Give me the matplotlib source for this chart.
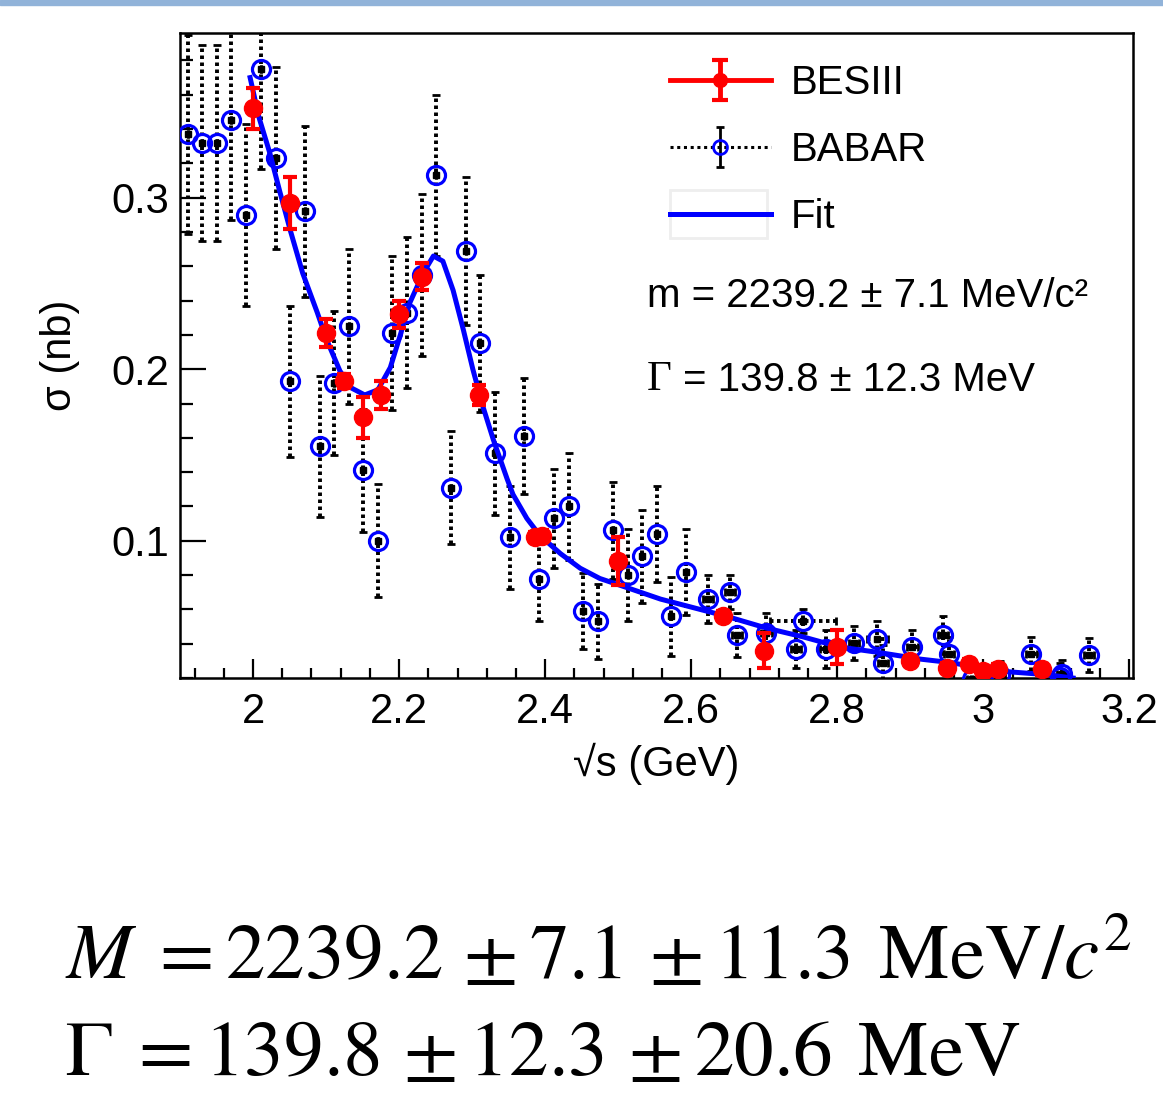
import matplotlib
matplotlib.use("Agg")
import matplotlib.pyplot as plt
from matplotlib.patches import Rectangle

plt.rcParams['font.family'] = ['Liberation Sans', 'DejaVu Sans']
plt.rcParams['mathtext.fontset'] = 'stix'

# BESIII (red points)
bes_x = [2.000, 2.050, 2.100, 2.125, 2.150, 2.175, 2.200, 2.232, 2.309, 2.386, 2.396,
         2.500, 2.644, 2.700, 2.800, 2.900, 2.950, 2.981, 3.000, 3.020, 3.080]
bes_y = [0.352, 0.297, 0.221, 0.193, 0.172, 0.185, 0.232, 0.254, 0.185, 0.102, 0.103,
         0.088, 0.056, 0.036, 0.038, 0.030, 0.026, 0.028, 0.024, 0.025, 0.025]
bes_err = [0.012, 0.015, 0.008, 0.004, 0.012, 0.008, 0.008, 0.008, 0.006, 0.003, 0.003,
           0.014, 0.003, 0.010, 0.010, 0.003, 0.003, 0.003, 0.003, 0.003, 0.003]

# BABAR (open blue circles)
bab_x = [1.911, 1.930, 1.951, 1.970, 1.990, 2.011, 2.032, 2.051, 2.071, 2.092,
         2.111, 2.132, 2.151, 2.171, 2.190, 2.211, 2.232, 2.251, 2.271, 2.292,
         2.311, 2.332, 2.352, 2.371, 2.392, 2.412, 2.432, 2.452, 2.473, 2.493,
         2.514, 2.533, 2.553, 2.573, 2.593, 2.623, 2.653, 2.663, 2.703, 2.744,
         2.753, 2.784, 2.823, 2.855, 2.863, 2.903, 2.945, 2.953, 2.985, 3.023,
         3.066, 3.105, 3.108, 3.145]
bab_y = [0.337, 0.332, 0.332, 0.345, 0.290, 0.375, 0.323, 0.193, 0.292, 0.155,
         0.192, 0.225, 0.141, 0.100, 0.221, 0.233, 0.255, 0.313, 0.131, 0.269,
         0.215, 0.151, 0.102, 0.161, 0.078, 0.113, 0.120, 0.059, 0.053, 0.106,
         0.080, 0.091, 0.104, 0.056, 0.082, 0.066, 0.070, 0.045, 0.046, 0.037,
         0.053, 0.037, 0.0405, 0.043, 0.029, 0.038, 0.045, 0.034, 0.0195, 0.022,
         0.034, 0.0207, 0.0225, 0.0335]
bab_err = [0.058, 0.057, 0.057, 0.058, 0.053, 0.058, 0.053, 0.044, 0.050, 0.041,
           0.042, 0.045, 0.036, 0.033, 0.045, 0.044, 0.047, 0.047, 0.033, 0.043,
           0.040, 0.036, 0.030, 0.034, 0.025, 0.029, 0.031, 0.022, 0.022, 0.028,
           0.027, 0.027, 0.028, 0.023, 0.025, 0.014, 0.010, 0.013, 0.012, 0.011,
           0.007, 0.011, 0.010, 0.010, 0.010, 0.010, 0.011, 0.010, 0.008, 0.008,
           0.010, 0.008, 0.008, 0.010]
bab_xerr = [0.0] * 35 + [0.007, 0.007, 0.007, 0.007, 0.007,
                         0.045, 0.007, 0.007, 0.014, 0.007, 0.007, 0.007, 0.007, 0.007, 0.007,
                         0.007, 0.007, 0.007, 0.007]

# fit curve
fit_x = [1.996, 2.008, 2.023, 2.037, 2.051, 2.068, 2.088, 2.101, 2.119, 2.135,
         2.153, 2.171, 2.188, 2.201, 2.215, 2.233, 2.247, 2.260, 2.274, 2.288,
         2.301, 2.315, 2.329, 2.348, 2.356, 2.375, 2.393, 2.421, 2.448, 2.475,
         2.503, 2.558, 2.612, 2.648, 2.704, 2.753, 2.804, 2.855, 2.914, 2.955,
         3.023, 3.085, 3.123]
fit_y = [0.370, 0.347, 0.326, 0.303, 0.281, 0.256, 0.233, 0.217, 0.199, 0.189,
         0.185, 0.188, 0.201, 0.219, 0.239, 0.256, 0.266, 0.263, 0.246, 0.223,
         0.200, 0.178, 0.159, 0.136, 0.127, 0.113, 0.103, 0.0925, 0.084, 0.078,
         0.074, 0.066, 0.060, 0.056, 0.049, 0.044, 0.038, 0.035, 0.031, 0.029,
         0.024, 0.022, 0.020]

fig = plt.figure(figsize=(11.63, 10.97), dpi=100)
fig.patches.append(Rectangle((0, 1 - 5 / 1097), 1, 5 / 1097, transform=fig.transFigure,
                             color='#91b3d9', zorder=0))

ax = fig.add_axes([180 / 1163, 419 / 1097, 953 / 1163, 645 / 1097])

# BABAR points
eb = ax.errorbar(bab_x, bab_y, yerr=bab_err, xerr=bab_xerr, fmt='none', ecolor='black',
                 elinewidth=2.8, capsize=3, capthick=2, zorder=2)
for lc in eb[2]:
    lc.set_linestyle((0, (0.9, 0.9)))
ax.plot(bab_x, bab_y, 's', color='black', markersize=4.5, zorder=3)
ax.plot(bab_x, bab_y, 'o', mfc='none', mec='#0000ff', mew=2.3, markersize=13, zorder=3)

# fit
ax.plot(fit_x, fit_y, '-', color='#0000ff', lw=3.6, zorder=4)

# BESIII points
ax.errorbar(bes_x, bes_y, yerr=bes_err, fmt='o', color='#ff0000', markersize=13,
            elinewidth=3, capsize=5, capthick=3, zorder=5)

ax.set_xlim(1.9, 3.205)
ax.set_ylim(0.02, 0.396)
ax.set_xticks([2, 2.2, 2.4, 2.6, 2.8, 3, 3.2])
ax.set_xticklabels(['2', '2.2', '2.4', '2.6', '2.8', '3', '3.2'])
ax.set_yticks([0.1, 0.2, 0.3])
ax.set_yticklabels(['0.1', '0.2', '0.3'])
ax.set_xticks([1.92 + 0.04 * i for i in range(33)], minor=True)
ax.set_yticks([0.02 + 0.02 * i for i in range(19)], minor=True)
ax.tick_params(axis='both', which='both', direction='in', width=1.6, labelsize=30,
               top=False, right=False)
ax.tick_params(axis='x', which='major', length=14, pad=10)
ax.tick_params(axis='x', which='minor', length=7)
ax.tick_params(axis='y', which='major', length=19, pad=8)
ax.tick_params(axis='y', which='minor', length=9.5)
for s in ax.spines.values():
    s.set_linewidth(1.8)

ax.set_xlabel('√s (GeV)', fontsize=30, labelpad=8)
ax.set_ylabel('σ (nb)', fontsize=30, labelpad=22)

# legend proxies
h1 = ax.errorbar([float('nan')], [float('nan')], yerr=[0.01], fmt='-o', color='#ff0000',
                 markersize=10, lw=3.5, elinewidth=3.5, capsize=6, capthick=3)
h2 = ax.errorbar([float('nan')], [float('nan')], yerr=[0.01], fmt='o', ls=(0, (1, 1.2)),
                 color='black', mfc='none', mec='#0000ff', mew=2, markersize=10,
                 lw=2.2, elinewidth=2, capsize=3)
h3, = ax.plot([], [], '-', color='#0000ff', lw=3.6)
ax.legend([h1, h2, h3], ['BESIII', 'BABAR', 'Fit'], loc='upper left',
          bbox_to_anchor=(0.514, 0.952), frameon=False, fontsize=29,
          handlelength=2.5, handletextpad=0.5, labelspacing=0.72,
          borderpad=0, borderaxespad=0)
# faint box around the Fit entry, as in the original
ax.add_patch(Rectangle((0.514, 0.682), 0.102, 0.075, transform=ax.transAxes,
                       fill=False, ec='#eeeeee', lw=2, zorder=1))

ax.text(0.49, 0.593, 'm = 2239.2 ± 7.1 MeV/c²', transform=ax.transAxes, fontsize=29,
        va='center', ha='left')
ax.text(0.49, 0.462, 'Γ', transform=ax.transAxes, fontsize=31, va='center', ha='left',
        family='Liberation Serif')
ax.text(0.528, 0.462, '= 139.8 ± 12.3 MeV', transform=ax.transAxes, fontsize=29,
        va='center', ha='left')

fig.text(65 / 1163, 1 - 958 / 1097,
         r'$M\;=2239.2\,\pm 7.1\,\pm 11.3\;\,\mathrm{MeV}/c^2$',
         fontsize=57, va='center', ha='left')
fig.text(65 / 1163, 1 - 1055 / 1097,
         r'$\Gamma\;=139.8\,\pm 12.3\,\pm 20.6\;\,\mathrm{MeV}$',
         fontsize=57, va='center', ha='left')

fig.savefig('out.png', dpi=100)
